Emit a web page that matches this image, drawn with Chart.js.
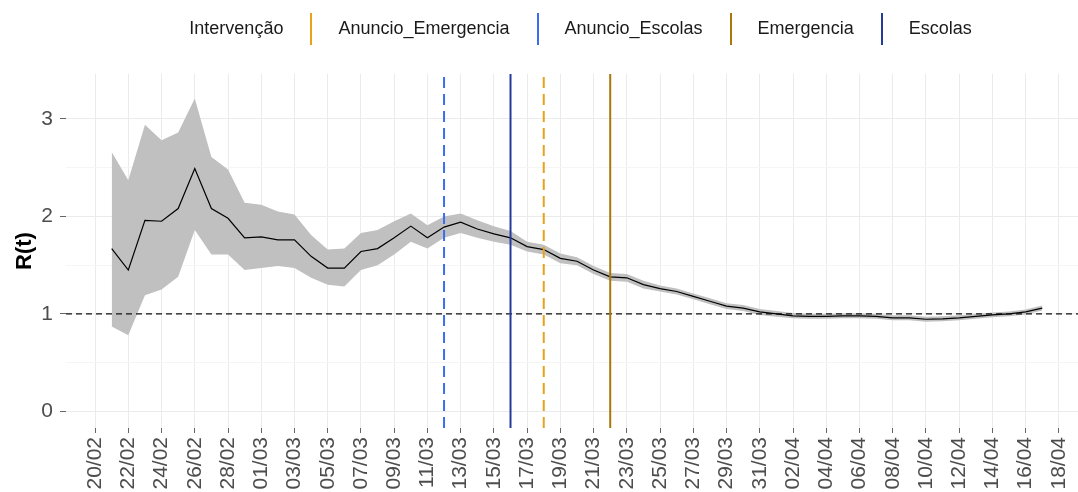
<!DOCTYPE html>
<html>
<head>
<meta charset="utf-8">
<script src="https://cdn.jsdelivr.net/npm/chart.js@4"></script>
<style>
  html, body { margin: 0; padding: 0; background: #fff; }
  #wrap { width: 1078px; height: 492px; }
</style>
</head>
<body>
<div id="wrap"><canvas id="rtCanvas"></canvas></div>
<script>
const dates = [
  "21/02", "22/02", "23/02", "24/02", "25/02", "26/02", "27/02", "28/02", "29/02",
  "01/03", "02/03", "03/03", "04/03", "05/03", "06/03", "07/03", "08/03", "09/03", "10/03",
  "11/03", "12/03", "13/03", "14/03", "15/03", "16/03", "17/03", "18/03", "19/03", "20/03",
  "21/03", "22/03", "23/03", "24/03", "25/03", "26/03", "27/03", "28/03", "29/03", "30/03", "31/03",
  "01/04", "02/04", "03/04", "04/04", "05/04", "06/04", "07/04", "08/04", "09/04", "10/04",
  "11/04", "12/04", "13/04", "14/04", "15/04", "16/04", "17/04"
];

const rtMean = [
  1.67, 1.45, 1.96, 1.95, 2.08, 2.49, 2.08, 1.98, 1.78,
  1.79, 1.76, 1.76, 1.59, 1.47, 1.47, 1.64, 1.67, 1.78, 1.90,
  1.78, 1.89, 1.94, 1.87, 1.82, 1.78, 1.69, 1.66, 1.57, 1.54,
  1.45, 1.38, 1.37, 1.30, 1.26, 1.23, 1.18, 1.13, 1.08, 1.06, 1.02,
  1.00, 0.98, 0.975, 0.975, 0.98, 0.98, 0.975, 0.96, 0.96, 0.945,
  0.95, 0.96, 0.975, 0.99, 1.00, 1.02, 1.06
];

const rtUpper = [
  2.66, 2.37, 2.94, 2.78, 2.86, 3.21, 2.61, 2.48, 2.14,
  2.12, 2.05, 2.02, 1.81, 1.66, 1.67, 1.83, 1.86, 1.95, 2.03,
  1.91, 2.00, 2.03, 1.96, 1.90, 1.85, 1.74, 1.71, 1.62, 1.58,
  1.49, 1.42, 1.41, 1.34, 1.29, 1.26, 1.21, 1.16, 1.11, 1.09, 1.05,
  1.03, 1.01, 1.00, 1.00, 1.005, 1.005, 1.00, 0.985, 0.985, 0.97,
  0.975, 0.985, 1.00, 1.015, 1.025, 1.045, 1.085
];

const rtLower = [
  0.87, 0.78, 1.19, 1.25, 1.38, 1.86, 1.61, 1.61, 1.45,
  1.47, 1.49, 1.47, 1.37, 1.30, 1.28, 1.45, 1.50, 1.61, 1.74,
  1.67, 1.78, 1.83, 1.78, 1.74, 1.71, 1.64, 1.61, 1.52, 1.50,
  1.41, 1.34, 1.33, 1.26, 1.23, 1.20, 1.15, 1.10, 1.05, 1.03, 0.99,
  0.97, 0.955, 0.95, 0.95, 0.955, 0.955, 0.95, 0.935, 0.935, 0.92,
  0.925, 0.935, 0.95, 0.965, 0.975, 0.995, 1.035
];

const tickLabels = [
  "20/02", "22/02", "24/02", "26/02", "28/02", "01/03", "03/03", "05/03", "07/03", "09/03",
  "11/03", "13/03", "15/03", "17/03", "19/03", "21/03", "23/03", "25/03", "27/03", "29/03",
  "31/03", "02/04", "04/04", "06/04", "08/04", "10/04", "12/04", "14/04", "16/04", "18/04"
];

const interventions = ["Anuncio_Emergencia", "Anuncio_Escolas", "Emergencia", "Escolas"];
const interventionDates = ["18/03", "12/03", "22/03", "16/03"];
const referenceR = 1;

// styling
const lineColors = ["#e8a21a", "#3b6cf2", "#a8790a", "#233c9c"];
const lineDashes = [[11, 6], [11, 6], [], []];
const X_MIN = -1.75, X_MAX = 59.15;
const Y_MIN = -0.17, Y_MAX = 3.46;
const FONT = "'Liberation Sans', Arial, sans-serif";
const PAD_LEFT = 38; // shifts the legend; the y axis width makes up for it

// days since 20/02/2020
function dayOffset(s) {
  const [d, m] = s.split("/").map(Number);
  return (Date.UTC(2020, m - 1, d) - Date.UTC(2020, 1, 20)) / 86400000;
}

function keyImage(color) {
  const c = document.createElement("canvas");
  c.width = 2;
  c.height = 32;
  const g = c.getContext("2d");
  if (color) {
    g.fillStyle = color;
    g.fillRect(0, 0, 2, 32);
  }
  return c;
}

const series = (vals) => dates.map((d, i) => ({ x: dayOffset(d), y: vals[i] }));

const datasets = [
  {
    label: "upper",
    data: series(rtUpper),
    borderWidth: 0,
    pointRadius: 0,
    backgroundColor: "#c0c0c0",
    fill: "+1",
    order: 5,
  },
  {
    label: "lower",
    data: series(rtLower),
    borderWidth: 0,
    pointRadius: 0,
    fill: false,
    order: 6,
  },
  {
    label: "R(t)",
    data: series(rtMean),
    borderColor: "#000",
    borderWidth: 1.2,
    pointRadius: 0,
    fill: false,
    order: 2,
  },
  {
    label: "ref",
    data: [{ x: X_MIN, y: referenceR }, { x: X_MAX, y: referenceR }],
    borderColor: "#111",
    borderWidth: 1.3,
    borderDash: [6, 4],
    pointRadius: 0,
    fill: false,
    order: 3,
  },
];

interventions.forEach((name, i) => {
  const x = dayOffset(interventionDates[i]);
  datasets.push({
    label: name,
    data: [{ x: x, y: Y_MIN }, { x: x, y: Y_MAX }],
    borderColor: lineColors[i],
    borderWidth: 2,
    borderDash: lineDashes[i],
    pointRadius: 0,
    fill: false,
    order: 0,
  });
});

const chart = new Chart(document.getElementById("rtCanvas"), {
  type: "line",
  data: { datasets },
  options: {
    responsive: true,
    maintainAspectRatio: false,
    animation: false,
    layout: { padding: { top: 10, left: PAD_LEFT, right: 0, bottom: 0 } },
    plugins: {
      tooltip: { enabled: false },
      legend: {
        position: "top",
        onClick: () => {},
        labels: {
          usePointStyle: true,
          pointStyleWidth: 36,
          boxHeight: 18,
          padding: 10,
          font: { family: FONT, size: 18 },
          generateLabels: () => [
            {
              text: "Intervenção",
              pointStyle: keyImage(null),
              fillStyle: "rgba(0,0,0,0)",
              strokeStyle: "rgba(0,0,0,0)",
              lineWidth: 0,
              fontColor: "#1a1a1a",
              hidden: false,
            },
          ].concat(
            interventions.map((name, i) => ({
              text: name,
              pointStyle: keyImage(lineColors[i]),
              fillStyle: lineColors[i],
              strokeStyle: lineColors[i],
              lineWidth: 0,
              fontColor: "#1a1a1a",
              hidden: false,
            }))
          ),
        },
      },
    },
    scales: {
      x: {
        type: "linear",
        position: "bottom",
        min: X_MIN,
        max: X_MAX,
        afterFit: (s) => {
          s.height = 64;
          s.paddingLeft = 0;
          s.paddingRight = 0;
        },
        afterBuildTicks: (s) => {
          s.ticks = tickLabels.map((t) => ({ value: dayOffset(t) }));
        },
        ticks: {
          autoSkip: false,
          minRotation: 90,
          maxRotation: 90,
          padding: 4,
          color: "#4d4d4d",
          font: { family: FONT, size: 21 },
          callback: (v, i) => tickLabels[i],
        },
        grid: {
          color: "#ebebeb",
          tickLength: 5,
          tickColor: "#666",
        },
        border: { display: false },
      },
      pad: {
        type: "linear",
        position: "top",
        display: true,
        afterFit: (s) => {
          s.height = 26;
        },
        ticks: { display: false },
        grid: { display: false, drawTicks: false },
        border: { display: false },
      },
      y: {
        type: "linear",
        min: Y_MIN,
        max: Y_MAX,
        afterFit: (s) => {
          s.width = 66 - PAD_LEFT;
          s.paddingTop = 0;
          s.paddingBottom = 0;
        },
        ticks: {
          stepSize: 0.5,
          includeBounds: false,
          padding: 7,
          color: "#4d4d4d",
          font: { family: FONT, size: 21 },
          callback: (v) => (Number.isInteger(v) ? String(v) : ""),
        },
        grid: {
          color: (ctx) => (Number.isInteger(ctx.tick.value) ? "#ebebeb" : "#f5f5f5"),
          tickLength: 6,
          tickColor: (ctx) => (Number.isInteger(ctx.tick.value) ? "#666" : "rgba(0,0,0,0)"),
        },
        border: { display: false },
        title: {
          display: true,
          text: "R(t)",
          color: "#000",
          font: { family: FONT, size: 22, weight: "bold" },
          padding: { top: 12 - PAD_LEFT, bottom: 0 },
        },
      },
    },
  },
});
</script>
</body>
</html>
